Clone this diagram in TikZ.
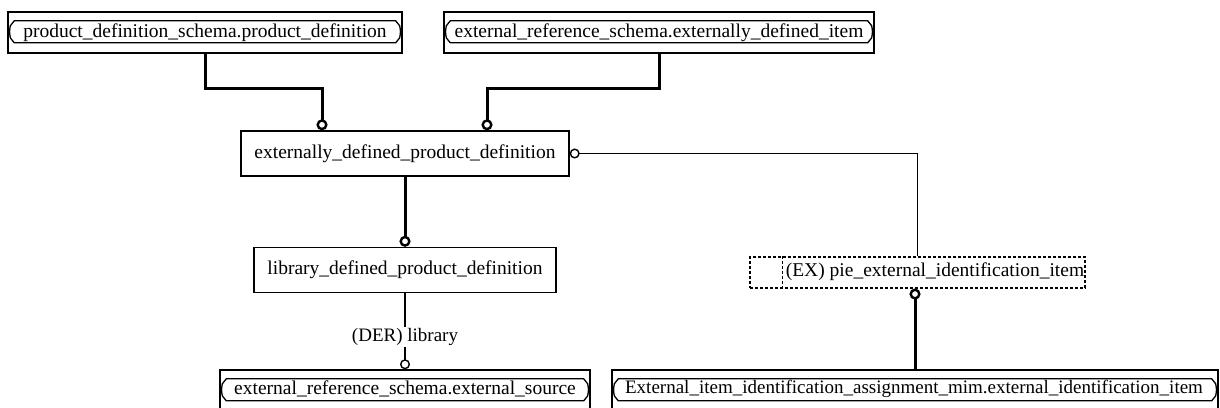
\documentclass[tikz,border=0pt]{standalone}
\usepackage{fontspec}
\setmainfont{Liberation Serif}
\usetikzlibrary{arrows.meta}
\newcommand\refinner[1]{%
  \draw[line width=1.3pt] ([xshift=7pt,yshift=-9.5pt]#1.north west) -- ([xshift=-7pt,yshift=-9.5pt]#1.north east)
    -- ([xshift=-3pt,yshift=-14.5pt]#1.north east) .. controls ([xshift=-2pt,yshift=-20.5pt]#1.north east) .. ([xshift=-3pt,yshift=-26.5pt]#1.north east)
    -- ([xshift=-7pt,yshift=-31.5pt]#1.north east) -- ([xshift=7pt,yshift=-31.5pt]#1.north west)
    -- ([xshift=3pt,yshift=-26.5pt]#1.north west) .. controls ([xshift=2pt,yshift=-20.5pt]#1.north west) .. ([xshift=3pt,yshift=-14.5pt]#1.north west)
    -- cycle;}
\begin{document}
\begin{tikzpicture}[x=1pt,y=-1pt,
  every node/.style={font=\fontsize{19.5}{22}\selectfont, inner sep=0pt},
  entbox/.style={draw, line width=1.4pt, minimum height=45pt},
  refbox/.style={draw, line width=1.4pt, minimum height=41pt},
  exbox/.style={draw, dash pattern=on 3pt off 2pt, line width=1.1pt, minimum height=31pt},
  subline/.style={line width=3pt},
  relline/.style={line width=1.5pt},
  otip/.style={-{Circle[open,length=11pt,width=11pt,line width=2.4pt]}},
  otipthin/.style={-{Circle[open,length=10pt,width=10pt,line width=1.4pt]}},
]
\useasboundingbox (0,0) rectangle (1220,407);
% reference boxes
\node[refbox, minimum width=394pt] (pds) at (205,32.5) {};
\refinner{pds}
\node at (205,33) {product\_definition\_schema.product\_definition};
\node[refbox, minimum width=430pt] (eds) at (659,32.5) {};
\refinner{eds}
\node at (659,33) {external\_reference\_schema.externally\_defined\_item};
\node[refbox, minimum width=370pt] (esrc) at (405,390.5) {};
\refinner{esrc}
\node at (405,389) {external\_reference\_schema.external\_source};
\node[refbox, minimum width=606pt] (eid) at (915,390.5) {};
\refinner{eid}
\node[font=\fontsize{19}{22}\selectfont] at (914,389) {External\_item\_identification\_assignment\_mim.external\_identification\_item};
% entities
\node[entbox, minimum width=328pt] (edpd) at (405,153.5) {externally\_defined\_product\_definition};
\node[entbox, minimum width=302pt] (ldpd) at (405,270) {library\_defined\_product\_definition};
% EX select
\node[exbox, minimum width=335pt] (ex) at (917.5,272.5) {};
\draw[dash pattern=on 3pt off 2pt, line width=1.1pt] ([xshift=33pt]ex.north west) -- ([xshift=33pt]ex.south west);
\node at (935,272) {(EX) pie\_external\_identification\_item};
% connectors
\draw[subline, otip] (pds.south) -- ++(0,35) -| ([xshift=-83pt]edpd.north);
\draw[subline, otip] (eds.south) -- ++(0,35) -| ([xshift=82pt]edpd.north);
\draw[subline, otip] (edpd.south) -- (ldpd.north);
\draw[subline, otip] (eid.north) -- (eid.north |- ex.south);
\draw[relline, otipthin] (ex.north) |- (edpd.east);
\draw[relline, otipthin] (ldpd.south) -- node[pos=0.58, fill=white, inner sep=1.5pt, font=\fontsize{19}{20}\selectfont] (der) {(DER) library} (esrc.north);
\end{tikzpicture}
\end{document}
